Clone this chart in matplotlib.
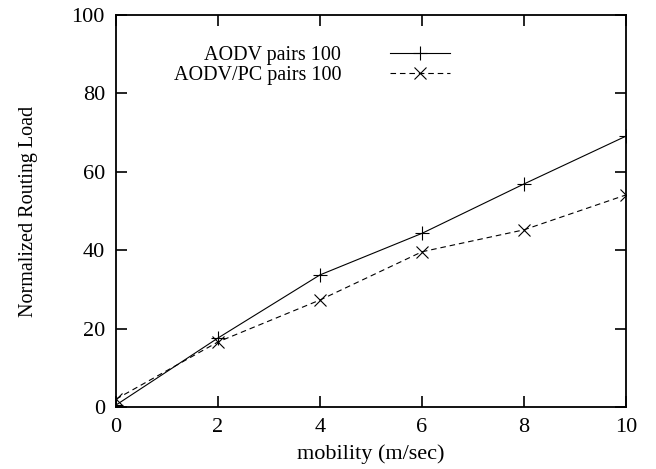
import matplotlib.pyplot as plt

# data
mobility = [0, 2, 4, 6, 8, 10]
aodv = [0.5, 17.6, 33.7, 44.3, 56.9, 69.1]
aodv_pc = [2.0, 16.6, 27.3, 39.6, 45.2, 54.1]
labels = ['AODV pairs 100', 'AODV/PC pairs 100']

plt.rcParams['font.family'] = ['Liberation Serif', 'DejaVu Serif']

fig = plt.figure(figsize=(6.56, 4.69), dpi=100)
ax = fig.add_axes([116/656, 62/469, 510/656, 392/469])

ax.plot(mobility, aodv, color='black', lw=0.8, marker='+', ms=10, mew=0.8, label=labels[0])
ax.plot(mobility, aodv_pc, color='black', lw=0.8, dashes=(5, 3.5), marker='x', ms=9, mew=0.8, label=labels[1])

ax.set_xlim(0, 10)
ax.set_ylim(0, 100)
ax.set_xticks([0, 2, 4, 6, 8, 10])
ax.set_yticks([0, 20, 40, 60, 80, 100])
ax.tick_params(direction='in', length=8, width=1.2, top=True, right=True, labelsize=16, pad=8)
for s in ax.spines.values():
    s.set_linewidth(1.3)

ax.set_xlabel('mobility (m/sec)', fontsize=16)
ax.set_ylabel('Normalized Routing Load', fontsize=14.5)
ax.xaxis.set_label_coords(0.5, -0.095)
ax.yaxis.set_label_coords(-0.153, 0.5)

ax.legend(loc='upper right', bbox_to_anchor=(0.655, 0.92), frameon=False, markerfirst=False,
          fontsize=14.5, handlelength=3.0, handletextpad=2.4, labelspacing=0.0,
          borderaxespad=0, borderpad=0, numpoints=1)

fig.savefig('out.png', dpi=100)
